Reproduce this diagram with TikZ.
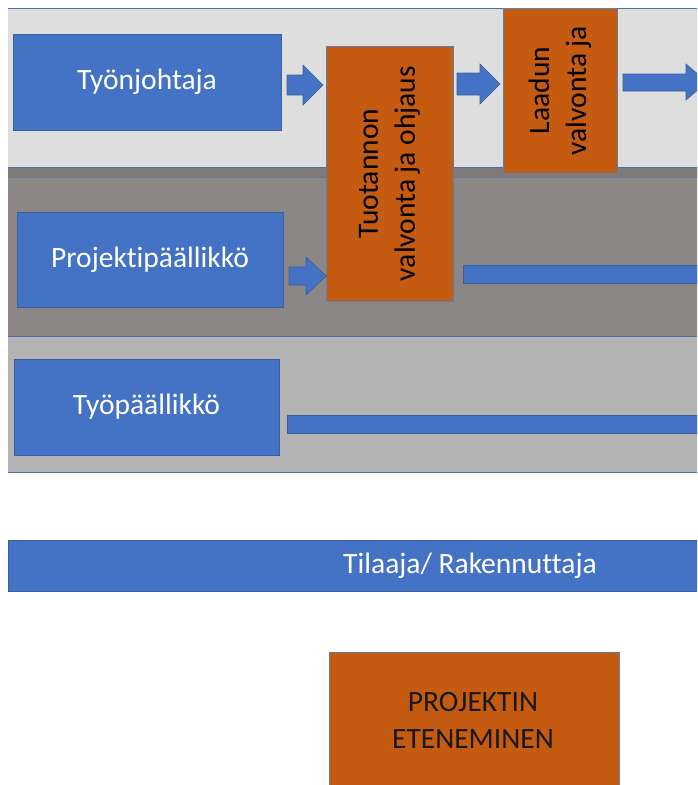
\documentclass[tikz,border=0pt]{standalone}
\usepackage{fontspec}
\setmainfont{Carlito}[Ligatures={NoCommon,NoContextual}]
\begin{document}
\begin{tikzpicture}[x=1pt,y=-1pt,
  every node/.style={inner sep=0pt, outer sep=0pt, align=center,
    font=\fontsize{29.5}{37}\selectfont},
  rolebox/.style={draw=boxline, line width=0.8pt, fill=roleblue,
    text=white, rectangle},
  taskbox/.style={draw=taskline, line width=0.8pt, fill=taskorange,
    text=black!90, rectangle},
  laneedge/.style={draw=laneline, line width=1pt},
  flowarrow/.style={draw=boxline, line width=0.6pt, fill=roleblue}]
\definecolor{roleblue}{HTML}{4472C4}
\definecolor{boxline}{HTML}{3A5F9E}
\definecolor{taskorange}{HTML}{C55A11}
\definecolor{taskline}{HTML}{5B7FAE}
\definecolor{laneline}{HTML}{4E6FA8}
\definecolor{laneA}{HTML}{DEDEDE}
\definecolor{laneB}{HTML}{8B8786}
\definecolor{laneBtop}{HTML}{7E7B7A}
\definecolor{laneC}{HTML}{B4B4B4}

\useasboundingbox (0,0) rectangle (697,785);
\clip (0,0) rectangle (697,785);
\fill[white] (0,0) rectangle (697,785);

% swim lanes (filled bands, blue rules between them)
\fill[laneA] (8,8) rectangle (720,167);
\fill[laneB] (8,167) rectangle (720,336);
\fill[laneBtop] (8,167) rectangle (720,177);
\draw[laneline!60!laneB, line width=0.6pt] (8,177) -- (720,177);
\fill[laneC] (8,336) rectangle (720,472);
\draw[laneedge] (8,8) -- (720,8);
\draw[laneedge] (8,167) -- (720,167);
\draw[laneedge] (8,336) -- (720,336);
\draw[laneedge] (8,472) -- (720,472);

% role boxes
\node[rolebox, minimum width=268pt, minimum height=96pt] (tj) at (147,82) {Työnjohtaja};
\node[rolebox, minimum width=266pt, minimum height=95pt] (pp) at (150,259.5) {Projektipäällikkö};
\node[rolebox, minimum width=265pt, minimum height=96pt] (tp) at (146.5,407) {Työpäällikkö};

% task boxes
\node[taskbox, minimum width=127pt, minimum height=255pt] (tuo) at (389.5,173.5) {};
\node[rotate=90] at (tuo.center) {Tuotannon\\valvonta ja ohjaus};
\node[taskbox, minimum width=114pt, minimum height=165pt] (laa) at (560,90.5) {};
\node[rotate=90] at (laa.center) {Laadun\\valvonta ja};

% block arrows between boxes
\coordinate (a1s) at ([xshift=6pt]tj.east |- 0,85);
\coordinate (a1t) at ([xshift=-3pt]tuo.west |- 0,85);
\filldraw[flowarrow] (a1s |- 0,75) -- (303,75) -- (303,65) -- (a1t)
  -- (303,105) -- (303,95) -- (a1s |- 0,95) -- cycle;

\coordinate (a2s) at ([xshift=4pt]tuo.east |- 0,84);
\coordinate (a2t) at ([xshift=-3pt]laa.west |- 0,84);
\filldraw[flowarrow] (a2s |- 0,73) -- (480,73) -- (480,64) -- (a2t)
  -- (480,104) -- (480,95) -- (a2s |- 0,95) -- cycle;

\coordinate (a3s) at ([xshift=6pt]laa.east |- 0,82);
\coordinate (a3t) at (707,82);
\filldraw[flowarrow] (a3s |- 0,74) -- (686,74) -- (686,64) -- (a3t)
  -- (686,100) -- (686,91) -- (a3s |- 0,91) -- cycle;

\coordinate (a4s) at ([xshift=6pt]pp.east |- 0,276);
\coordinate (a4t) at (tuo.west |- 0,276);
\filldraw[flowarrow] (a4s |- 0,267) -- (306,267) -- (306,257) -- (a4t)
  -- (306,295) -- (306,285) -- (a4s |- 0,285) -- cycle;

% long bars running to the right
\coordinate (b1) at ([xshift=10pt]tuo.east |- 0,265);
\filldraw[flowarrow] (b1) rectangle (720,283);
\coordinate (b2) at ([xshift=8pt]tp.east |- 0,415);
\filldraw[flowarrow] (b2) rectangle (720,433);

% client band
\filldraw[flowarrow] (8,540) rectangle (720,591);
\node[text=white] (til) at (470,565.5) {Tilaaja/ Rakennuttaja};

% progress box
\filldraw[draw=taskline, line width=0.8pt, fill=taskorange] (329,652) rectangle (619,800);
\node[text=black!90] (pe) at (473,720) {PROJEKTIN\\ETENEMINEN};
\end{tikzpicture}
\end{document}
